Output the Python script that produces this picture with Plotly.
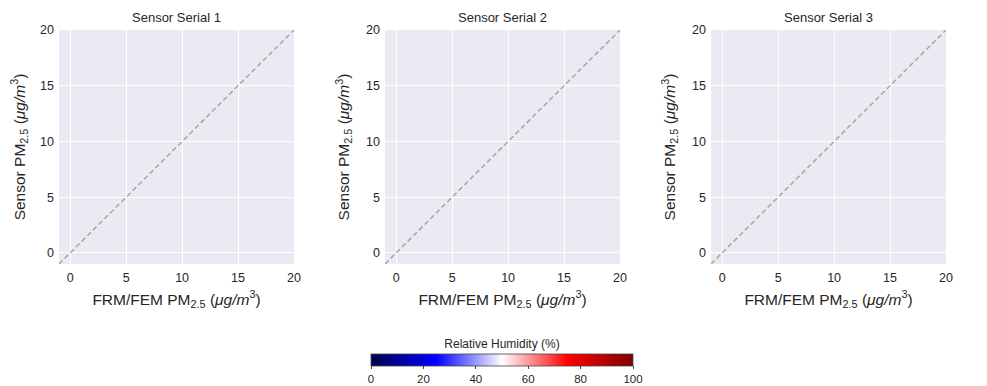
import plotly.graph_objects as go

titles = ["Sensor Serial 1", "Sensor Serial 2", "Sensor Serial 3"]
line_vals = [-1, 20]
tick_vals = [0, 5, 10, 15, 20]
cbar_ticks = [0, 20, 40, 60, 80, 100]
rh_range = [0, 100]

W, H = 987, 386
OFF = 8  # default page body margin
FW, FH = W - OFF, H - OFF
x_px = [(59, 294), (385, 620), (711, 946)]
y_px = (30, 264)

seismic = [[0.0, "rgb(0,0,77)"], [0.25, "rgb(0,0,255)"], [0.5, "rgb(255,255,255)"],
           [0.75, "rgb(255,0,0)"], [1.0, "rgb(128,0,0)"]]


def px_x(v):
    return (v - OFF) / FW


def px_y(v):
    return 1 - (v - OFF) / FH


fig = go.Figure()
font_color = "#262626"
layout = dict(width=FW, height=FH, margin=dict(l=0, r=0, t=0, b=0, autoexpand=False),
              paper_bgcolor="white", plot_bgcolor="#EAEAF2", showlegend=False,
              font=dict(family="Liberation Sans, Arial", color=font_color, size=12))
ydom = [px_y(y_px[1]), px_y(y_px[0])]
annotations = []
for i, (x0, x1) in enumerate(x_px):
    n = "" if i == 0 else str(i + 1)
    xa, ya = "x" + n, "y" + n
    fig.add_trace(go.Scatter(x=line_vals, y=line_vals, mode="lines", xaxis=xa, yaxis=ya,
                             line=dict(color="#a6a6a6", width=1.5, dash="5px,3px"), hoverinfo="skip"))
    common = dict(range=[-1, 20], tickvals=tick_vals, showgrid=True, gridcolor="white", gridwidth=1,
                  zeroline=False, showline=False, ticks="", tickfont=dict(size=12.5, color=font_color),
                  automargin=False, ticklabelstandoff=4)
    layout["xaxis" + n] = dict(common, domain=[px_x(x0), px_x(x1)], anchor=ya,
                               title=dict(text="FRM/FEM PM<sub>2.5</sub> (<i>μg/m</i><sup>3</sup>)",
                                          font=dict(size=15.5), standoff=10))
    layout["yaxis" + n] = dict(common, domain=ydom, anchor=xa,
                               title=dict(text="Sensor PM<sub>2.5</sub> (<i>μg/m</i><sup>3</sup>)",
                                          font=dict(size=15.5), standoff=12))
    annotations.append(dict(text=titles[i], x=px_x((x0 + x1) / 2), y=px_y(17), xref="paper", yref="paper",
                            xanchor="center", yanchor="middle",
                            showarrow=False, font=dict(size=13, color=font_color)))

fig.add_trace(go.Scatter(x=[None], y=[None], mode="markers", hoverinfo="skip",
                         marker=dict(color=[0], cmin=rh_range[0], cmax=rh_range[1], colorscale=seismic,
                                     showscale=True,
                                     colorbar=dict(orientation="h", x=px_x(371), xanchor="left", y=px_y(340),
                                                   yanchor="top", len=(633 - 371) / FW, lenmode="fraction",
                                                   thickness=12, xpad=0, ypad=0, outlinewidth=0.8,
                                                   outlinecolor="#444", tickvals=cbar_ticks, ticks="outside",
                                                   ticklen=3, tickcolor="#444",
                                                   tickfont=dict(size=11.5, color=font_color),
                                                   title=dict(text="Relative Humidity (%)", side="top",
                                                              font=dict(size=12, color=font_color))))))
layout["annotations"] = annotations
fig.update_layout(**layout)
fig.write_html("out.html")
